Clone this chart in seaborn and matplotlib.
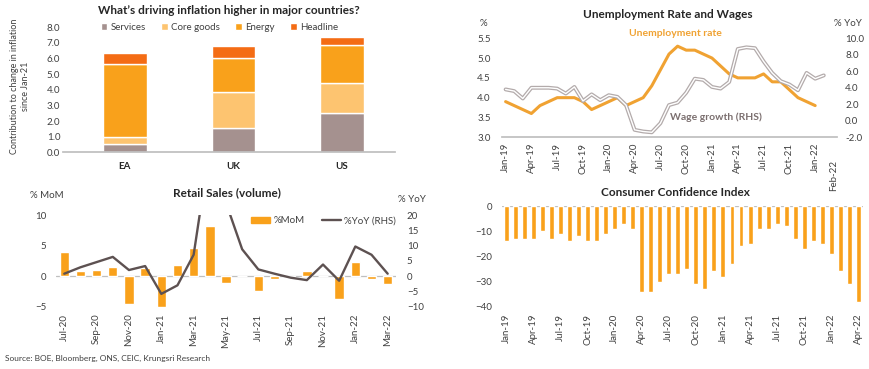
import numpy as np
import pandas as pd
import matplotlib
matplotlib.use("Agg")
import matplotlib.pyplot as plt
import seaborn as sns
from matplotlib.patches import Patch
from matplotlib.lines import Line2D

# --- Inflation drivers (contribution since Jan-21)
paises = ["EA", "UK", "US"]
componentes = ["Services", "Core goods", "Energy", "Headline"]
services = [0.53, 1.56, 2.54]
core_goods = [0.47, 2.32, 1.89]
energy = [4.63, 2.18, 2.46]
headline = [0.75, 0.76, 0.49]

# --- Unemployment rate (%) and wage growth (% YoY)
meses_emprego = pd.date_range("2019-01-01", "2022-02-01", freq="MS")
unemployment = [3.9, 3.8, 3.7, 3.6, 3.8, 3.9, 4.0, 4.0, 4.0, 3.9, 3.7, 3.8,
                3.9, 4.0, 3.8, 3.9, 4.0, 4.3, 4.7, 5.1, 5.3, 5.2, 5.2, 5.1,
                5.0, 4.8, 4.6, 4.5, 4.5, 4.5, 4.6, 4.4, 4.4, 4.2, 4.0, 3.9,
                3.8]
wage_growth = [3.8, 3.6, 2.7, 4.0, 4.0, 4.0, 3.9, 3.3, 4.1, 2.4, 3.2, 2.5,
               3.1, 2.9, 1.9, -1.1, -1.3, -1.4, -0.3, 1.9, 2.2, 3.4, 5.1, 4.95,
               4.1, 3.9, 4.7, 8.7, 8.9, 8.8, 7.2, 5.8, 4.8, 4.4, 3.7, 5.8,
               5.1, 5.5]

# --- Retail sales volume
meses_varejo = pd.date_range("2020-07-01", "2022-03-01", freq="MS")
retail_mom = [4.0, 0.9, 1.0, 1.5, -4.6, 1.4, -5.0, 1.8, 4.6, 8.2, -1.2, 0.0,
              -2.5, -0.5, -0.2, 0.9, 0.0, -3.7, 2.3, -0.4, -1.3]
retail_yoy = [0.8, 2.9, 4.6, 6.3, 2.0, 3.3, -5.8, -3.0, 7.0, 42.0, 24.0, 8.8,
              2.2, 0.8, -0.5, -1.3, 3.8, -1.5, 9.7, 7.0, 0.8]

# --- Consumer confidence index
meses_confianca = pd.date_range("2019-01-01", "2022-04-01", freq="MS")
confianca = [-14, -13, -13, -13, -10, -13, -11, -14, -12, -14, -14, -11,
             -9, -7, -9, -34, -34, -30, -27, -27, -25, -31, -33, -26,
             -28, -23, -16, -15, -9, -9, -7, -8, -13, -17, -14, -15,
             -19, -26, -31, -38]

CORES_INFL = ["#a5918f", "#fdc470", "#f9a11b", "#f46c14"]
LARANJA = "#f9a11b"
LARANJA_LINHA = "#f0a232"
CINZA_LINHA = "#5d5151"
COR_TEXTO = "#404040"
COR_EIXO = "#bfbfbf"
TAM = 7


def limpar(ax):
    for s in ax.spines.values():
        s.set_visible(False)
    ax.tick_params(length=0, labelsize=TAM, colors=COR_TEXTO)
    ax.set_xlabel("")
    ax.set_ylabel("")


sns.set_theme(style="white")
plt.rcParams["font.family"] = ["Lato", "DejaVu Sans"]

fig = plt.figure(figsize=(8.7, 3.69), dpi=100)

# ================= inflation stacked bars =================
ax1 = fig.add_axes([0.0724, 0.587, 0.382, 0.339])
x = np.arange(len(paises))
base = np.zeros(len(paises))
for nome, valores, cor in zip(componentes, [services, core_goods, energy, headline], CORES_INFL):
    ax1.bar(x, valores, bottom=base, width=0.4, color=cor, label=nome)
    base += np.array(valores)
limpar(ax1)
ax1.spines["bottom"].set_visible(True)
ax1.spines["bottom"].set_color(COR_EIXO)
ax1.set_xlim(-0.57, 2.49)
ax1.set_ylim(0, 8)
ax1.set_yticks(np.arange(0, 8.1, 1))
ax1.set_yticklabels([f"{v:.1f}" for v in np.arange(0, 8.1, 1)])
ax1.set_xticks(x)
ax1.set_xticklabels(paises, fontweight="bold", color="#262626")
ax1.tick_params(axis="x", pad=7)
ax1.tick_params(axis="y", pad=2)
ax1.legend(loc="center", bbox_to_anchor=(0.47, 1.0), ncol=4, frameon=False,
           fontsize=TAM, handlelength=0.7, handleheight=0.7, handletextpad=0.3,
           columnspacing=1.6, labelcolor=COR_TEXTO)
fig.text(229 / 870, 1 - 10.5 / 369, "What\u2019s driving inflation higher in major countries?",
         ha="center", va="center", fontsize=8.5, fontweight="bold")
fig.text(20 / 870, 1 - 86 / 369, "Contribution to change in inflation\nsince Jan-21",
         rotation=90, ha="center", va="center", fontsize=6.5, color=COR_TEXTO,
         multialignment="center")

# ================= unemployment & wages =================
ax2 = fig.add_axes([0.5767, 0.628, 0.385, 0.2683])
idx_u = np.arange(len(unemployment))
idx_w = np.arange(len(wage_growth))
sns.lineplot(x=idx_u, y=unemployment, ax=ax2, color=LARANJA_LINHA, lw=2.2)
limpar(ax2)
ax2.spines["bottom"].set_visible(True)
ax2.spines["bottom"].set_color(COR_EIXO)
ax2.set_ylim(3.0, 5.5)
ax2.set_yticks(np.arange(3.0, 5.51, 0.5))
ax2.set_yticklabels([f"{v:.1f}" for v in np.arange(3.0, 5.51, 0.5)])
ax2.tick_params(axis="y", pad=8)
ax2r = ax2.twinx()
sns.lineplot(x=idx_w, y=wage_growth, ax=ax2r, color="#b3abab", lw=2.8)
sns.lineplot(x=idx_w, y=wage_growth, ax=ax2r, color="white", lw=1.0)
limpar(ax2r)
ax2r.set_ylim(-2, 10)
ax2r.set_yticks(np.arange(-2, 10.1, 2))
ax2r.set_yticklabels([f"{v:.1f}" for v in np.arange(-2, 10.1, 2)])
ax2r.tick_params(axis="y", pad=6)
ax2.set_xlim(-0.45, 38.5)
ticks_u = list(range(0, 37, 3))
ax2.set_xticks(ticks_u)
ax2.set_xticklabels([meses_emprego[i].strftime("%b-%y") for i in ticks_u], rotation=90)
ax2.tick_params(axis="x", pad=4)
ax2.text(38.1, 2.43, meses_emprego[-1].strftime("%b-%y"), rotation=90, ha="center",
         va="top", fontsize=TAM, color=COR_TEXTO)
ax2.text(19.7, 5.61, "Unemployment rate", color=LARANJA_LINHA, fontweight="bold",
         fontsize=7.5, ha="center", va="center")
ax2.text(24.5, 3.51, "Wage growth (RHS)", color="#7b6f6f", fontweight="bold",
         fontsize=7.5, ha="center", va="center")
fig.text(668 / 870, 1 - 15 / 369, "Unemployment Rate and Wages", ha="center",
         va="center", fontsize=8.5, fontweight="bold")
fig.text(483 / 870, 1 - 23 / 369, "%", ha="center", va="center", fontsize=TAM, color=COR_TEXTO)
fig.text(848 / 870, 1 - 23 / 369, "% YoY", ha="center", va="center", fontsize=TAM, color=COR_TEXTO)

# ================= retail sales =================
ax3 = fig.add_axes([0.0646, 0.1688, 0.3903, 0.2485])
rot_varejo = [m.strftime("%b-%y") for m in meses_varejo]
sns.barplot(x=rot_varejo, y=retail_mom, ax=ax3, color=LARANJA, saturation=1,
            width=0.58, errorbar=None)
limpar(ax3)
ax3.axhline(0, color=COR_EIXO, lw=0.9, zorder=0.5)
ax3.set_ylim(-5, 10)
ax3.set_yticks([-5, 0, 5, 10])
ax3.tick_params(axis="y", pad=7)
ax3r = ax3.twinx()
sns.lineplot(x=np.arange(len(retail_yoy)), y=retail_yoy, ax=ax3r, color=CINZA_LINHA, lw=1.7)
limpar(ax3r)
ax3r.set_ylim(-10, 20)
ax3r.set_yticks(np.arange(-10, 21, 5))
ax3r.tick_params(axis="y", pad=8)
ax3.set_xlim(-0.5, 20.5)
ticks_r = list(range(0, len(rot_varejo), 2))
ax3.set_xticks(ticks_r)
ax3.set_xticklabels([rot_varejo[i] for i in ticks_r], rotation=90)
ax3.tick_params(axis="x", pad=5)
ax3r.legend(handles=[Patch(color=LARANJA, label="%MoM"),
                     Line2D([], [], color=CINZA_LINHA, lw=1.7, label="%YoY (RHS)")],
            loc="center", bbox_to_anchor=(0.787, 0.935), ncol=2, frameon=False,
            fontsize=TAM, handlelength=2.0, handleheight=0.6, columnspacing=1.8,
            handletextpad=0.3, labelcolor=COR_TEXTO)
fig.text(227 / 870, 1 - 192.7 / 369, "Retail Sales (volume)", ha="center",
         va="center", fontsize=8.5, fontweight="bold")
fig.text(47 / 870, 1 - 196 / 369, "% MoM", ha="center", va="center", fontsize=TAM, color=COR_TEXTO)
fig.text(412 / 870, 1 - 199 / 369, "% YoY", ha="center", va="center", fontsize=TAM, color=COR_TEXTO)

# ================= consumer confidence =================
ax4 = fig.add_axes([0.577, 0.1688, 0.4147, 0.2729])
rot_conf = [m.strftime("%b-%y") for m in meses_confianca]
sns.barplot(x=rot_conf, y=confianca, ax=ax4, color=LARANJA, saturation=1,
            width=0.55, errorbar=None)
limpar(ax4)
ax4.axhline(0, color=COR_EIXO, lw=0.9, zorder=0.5)
ax4.set_ylim(-40, 0)
ax4.set_yticks(np.arange(-40, 1, 10))
ax4.tick_params(axis="y", pad=7)
ax4.set_xlim(-0.5, 39.5)
ticks_c = list(range(0, len(rot_conf), 3))
ax4.set_xticks(ticks_c)
ax4.set_xticklabels([rot_conf[i] for i in ticks_c], rotation=90)
ax4.tick_params(axis="x", pad=5)
fig.text(675 / 870, 1 - 192.7 / 369, "Consumer Confidence Index", ha="center",
         va="center", fontsize=8.5, fontweight="bold")

fig.text(5 / 870, 1 - 358 / 369, "Source: BOE, Bloomberg, ONS, CEIC, Krungsri Research",
         ha="left", va="center", fontsize=6, color=COR_TEXTO)

fig.savefig("out.png", dpi=100)
plt.close(fig)
